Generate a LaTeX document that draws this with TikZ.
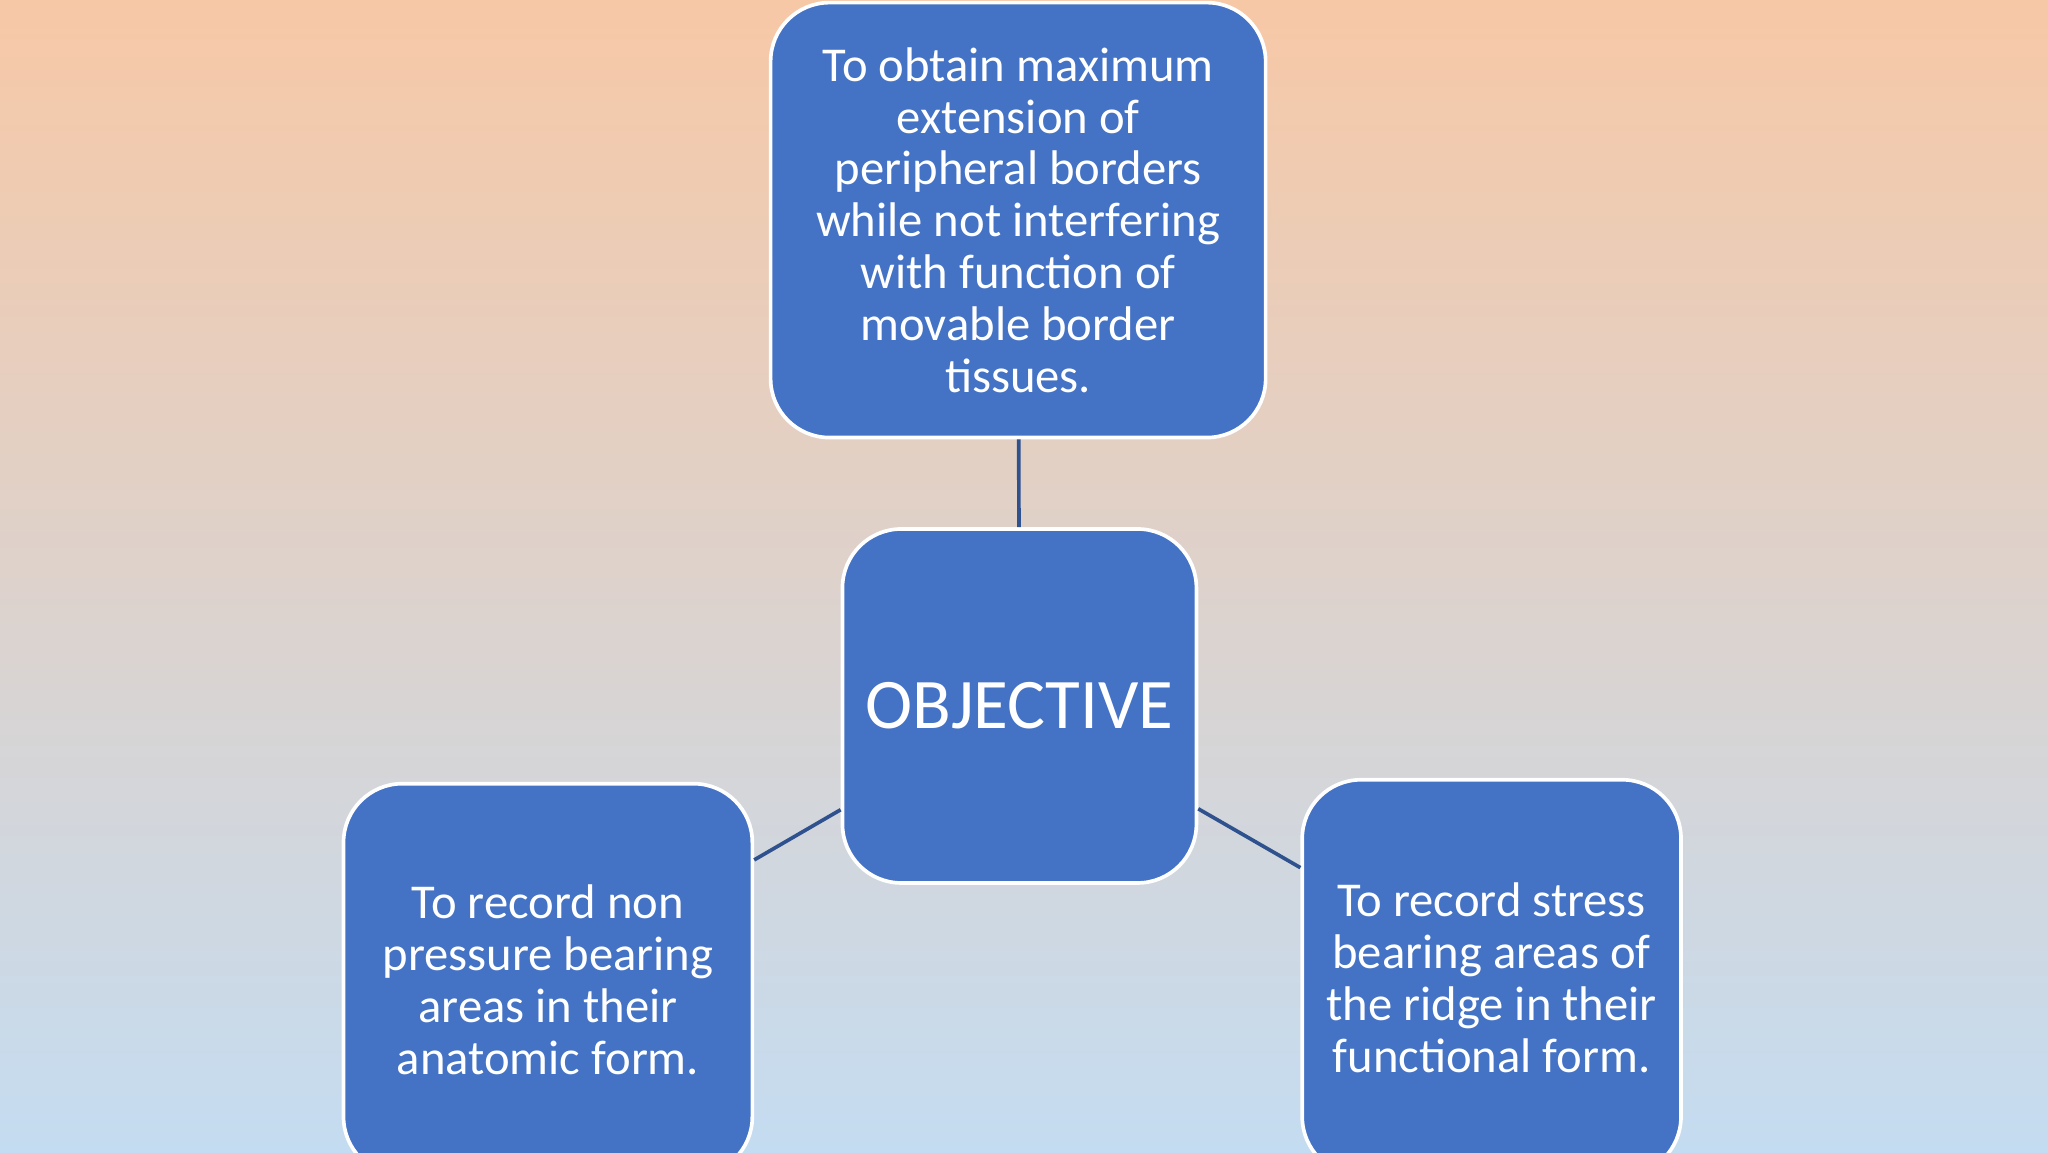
\documentclass[tikz,border=0pt]{standalone}
\usepackage{fontspec}
\setmainfont{Carlito}
\usetikzlibrary{positioning}
\definecolor{boxblue}{RGB}{68,114,196}
\definecolor{linkblue}{RGB}{47,82,143}
\definecolor{peach}{RGB}{247,200,166}
\definecolor{midgray}{RGB}{212,206,210}
\definecolor{skyblue}{RGB}{196,220,241}

\tikzset{
  goal/.style={draw=white, thick, fill=boxblue, rounded corners=0.45cm,
    text=white, align=center, font=\fontsize{10.6}{11.3}\selectfont, inner sep=0pt},
  link/.style={draw=linkblue, thick}
}

\begin{document}
\begin{tikzpicture}

            \clip (0,0) rectangle (15.68,8.82);
            \shade[top color=peach, middle color=midgray, bottom color=skyblue] (0,0) rectangle (15.68,8.82);

            \node[goal, minimum width=3.79cm, minimum height=3.33cm] (top) at (7.795,7.135)
                {To obtain maximum\\extension of\\peripheral borders\\while not interfering\\with function of\\movable border\\tissues.};
            \node[goal, minimum width=2.71cm, minimum height=2.71cm, font=\fontsize{15.5}{17}\selectfont] (obj) at (7.805,3.415) {OBJECTIVE};
            \node[goal, minimum width=3.13cm, minimum height=3.00cm] (left) at (4.195,1.32)
                {To record non\\pressure bearing\\areas in their\\anatomic form.};
            \node[goal, minimum width=2.90cm, minimum height=3.03cm] (right) at (11.42,1.335)
                {To record stress\\bearing areas of\\the ridge in their\\functional form.};

            \draw[link] (top) -- (obj);
            \draw[link] (obj) -- (left);
            \draw[link] (obj) -- (right);

\end{tikzpicture}
\end{document}
